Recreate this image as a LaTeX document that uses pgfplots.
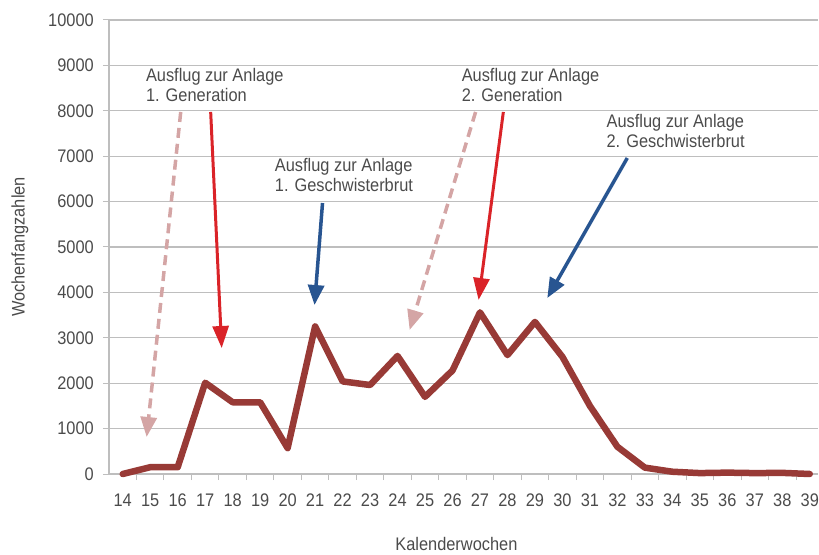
\documentclass[border=0pt]{standalone}
\usepackage{fontspec}
\setmainfont{Liberation Sans}[FakeStretch=0.9]
\usepackage{pgfplots}
\pgfplotsset{compat=1.18}
\usetikzlibrary{arrows.meta}
\definecolor{linecol}{RGB}{152,58,54}
\definecolor{redarr}{RGB}{218,35,40}
\definecolor{bluearr}{RGB}{40,85,145}
\definecolor{pinkarr}{RGB}{212,165,165}
\definecolor{gridcol}{RGB}{190,190,190}
\definecolor{txt}{RGB}{75,75,75}
\begin{document}
\fontsize{18.2bp}{20bp}\selectfont
\begin{tikzpicture}
\begin{axis}[name=ax, scale only axis, width=709bp, height=454bp,
  xmin=13.5, xmax=39.3, ymin=0, ymax=10000,
  xtick={14,...,39}, minor x tick num=1,
  ytick={0,1000,...,10000},
  axis x line=bottom, axis y line=left,
  axis line style={-, gridcol, line width=1.2bp},
  ymajorgrids, grid style={gridcol, line width=1.2bp},
  major x tick style={draw=none},
  minor x tick style={gridcol, line width=1bp},
  y tick style={gridcol, line width=1bp},
  tick align=outside, major tick length=6bp, minor tick length=6bp,
  clip=false,
  /pgf/number format/assume math mode=true,
  /pgf/number format/set thousands separator={},
  scaled y ticks=false,
  ticklabel style={text=txt, font=\fontsize{18.2bp}{20bp}\selectfont},
  xticklabel style={yshift=-8bp},
  yticklabel style={xshift=-3bp},
  xlabel={Kalenderwochen}, ylabel={Wochenfangzahlen},
  every axis x label/.style={at={(axis description cs:0.49,0)}, anchor=center, yshift=-70bp, text=txt},
  every axis y label/.style={at={(axis description cs:0,0.5)}, xshift=-89bp, rotate=90, anchor=center, text=txt},
]
\addplot[linecol, line width=6.5bp, line join=round, line cap=round] coordinates {
(14,0) (15,150) (16,150) (17,2010) (18,1580) (19,1580) (20,570) (21,3250)
(22,2040) (23,1960) (24,2600) (25,1700) (26,2280) (27,3560) (28,2620)
(29,3350) (30,2580) (31,1500) (32,600) (33,140) (34,50) (35,20) (36,30)
(37,20) (38,25) (39,0)};
% arrows
\draw[pinkarr, line width=3.5bp, dash pattern=on 10bp off 6bp, -{Triangle[width=16bp,length=20bp]}]
  (axis cs:16.11,7974) -- (axis cs:14.87,815);
\draw[redarr, line width=3bp, -{Triangle[width=16bp,length=22bp]}]
  (axis cs:17.2,7974) -- (axis cs:17.6,2775);
\draw[bluearr, line width=3.5bp, -{Triangle[width=16bp,length=20bp]}]
  (axis cs:21.27,5969) -- (axis cs:20.98,3722);
\draw[pinkarr, line width=3.5bp, dash pattern=on 10bp off 6bp, -{Triangle[width=16bp,length=20bp]}]
  (axis cs:26.84,7974) -- (axis cs:24.44,3172);
\draw[redarr, line width=3bp, -{Triangle[width=16bp,length=22bp]}]
  (axis cs:27.85,7974) -- (axis cs:26.95,3833);
\draw[bluearr, line width=3.5bp, -{Triangle[width=16bp,length=20bp]}]
  (axis cs:32.36,6960) -- (axis cs:29.45,3877);
% labels
\node[anchor=north west, align=left, text=txt, inner sep=0pt] at (axis cs:14.84,8943) {Ausflug zur Anlage\\1. Generation};
\node[anchor=north west, align=left, text=txt, inner sep=0pt] at (axis cs:19.53,6960) {Ausflug zur Anlage\\1. Geschwisterbrut};
\node[anchor=north west, align=left, text=txt, inner sep=0pt] at (axis cs:26.33,8943) {Ausflug zur Anlage\\2. Generation};
\node[anchor=north west, align=left, text=txt, inner sep=0pt] at (axis cs:31.6,7930) {Ausflug zur Anlage\\2. Geschwisterbrut};
\end{axis}
\pgfresetboundingbox
\path (ax.south west) ++(-109bp,-81bp) rectangle ++(819bp,555bp);
\end{tikzpicture}
\end{document}
